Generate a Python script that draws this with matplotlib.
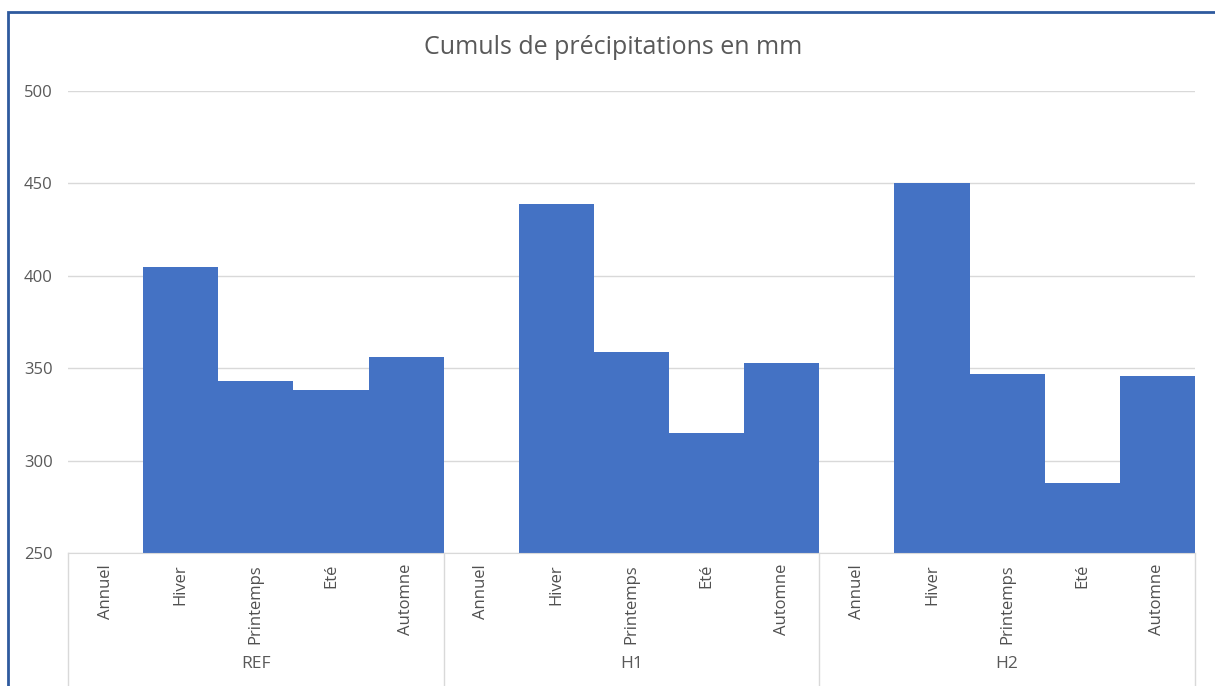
import matplotlib.pyplot as plt
import numpy as np
from matplotlib.patches import Rectangle

# Données
groupes = ["REF", "H1", "H2"]
saisons = ["Annuel", "Hiver", "Printemps", "Eté", "Automne"]
ref = [np.nan, 405, 343, 338, 356]
h1 = [np.nan, 439, 359, 315, 353]
h2 = [np.nan, 450, 347, 288, 346]
titre = "Cumuls de précipitations en mm"

valeurs = ref + h1 + h2
etiquettes = saisons * len(groupes)
x = np.arange(len(valeurs))

plt.rcParams['font.family'] = ['Open Sans', 'DejaVu Sans']

fig = plt.figure(figsize=(12.15, 6.86), dpi=100)
ax = fig.add_axes([68 / 1215, 1 - 553 / 686, (1195 - 68) / 1215, (553 - 91) / 686])

ax.bar(x, valeurs, width=1.0, bottom=0, color="#4472C4", zorder=2)
ax.set_ylim(250, 500)
ax.set_xlim(-0.5, len(valeurs) - 0.5)
ax.set_yticks([250, 300, 350, 400, 450, 500])
ax.yaxis.grid(True, color="#D9D9D9", linewidth=1, zorder=0)
ax.tick_params(axis="y", length=0, pad=11, labelsize=12, labelcolor="#595959")

ax.set_xticks(x)
ax.set_xticklabels(etiquettes, rotation=90, fontsize=12, color="#505050")
ax.tick_params(axis="x", length=0, pad=8)
for lab in ax.get_xticklabels():
    lab.set_verticalalignment("top")

for s in ["top", "right", "left"]:
    ax.spines[s].set_visible(False)
ax.spines["bottom"].set_color("#D9D9D9")

# séparateurs et libellés de groupes
trans = ax.get_xaxis_transform()
n = len(saisons)
for i in range(len(groupes) + 1):
    xs = i * n - 0.5
    ax.plot([xs, xs], [0, -0.3], transform=trans, color="#D9D9D9", lw=1, clip_on=False)
for i, g in enumerate(groupes):
    ax.text(i * n + (n - 1) / 2, -(664 - 553) / 462, g, transform=trans, ha="center",
            va="center", fontsize=12.5, color="#595959", clip_on=False)

fig.text(613 / 1215, 1 - 48 / 686, titre, ha="center", va="center", fontsize=18, color="#595959")

# bordure du graphique
fig.patches.append(Rectangle((8 / 1215, -0.1), 1.2, 1 - 12 / 686 + 0.1, transform=fig.transFigure,
                             fill=False, edgecolor="#2E5A9E", linewidth=2))

fig.savefig("out.png", dpi=100)
